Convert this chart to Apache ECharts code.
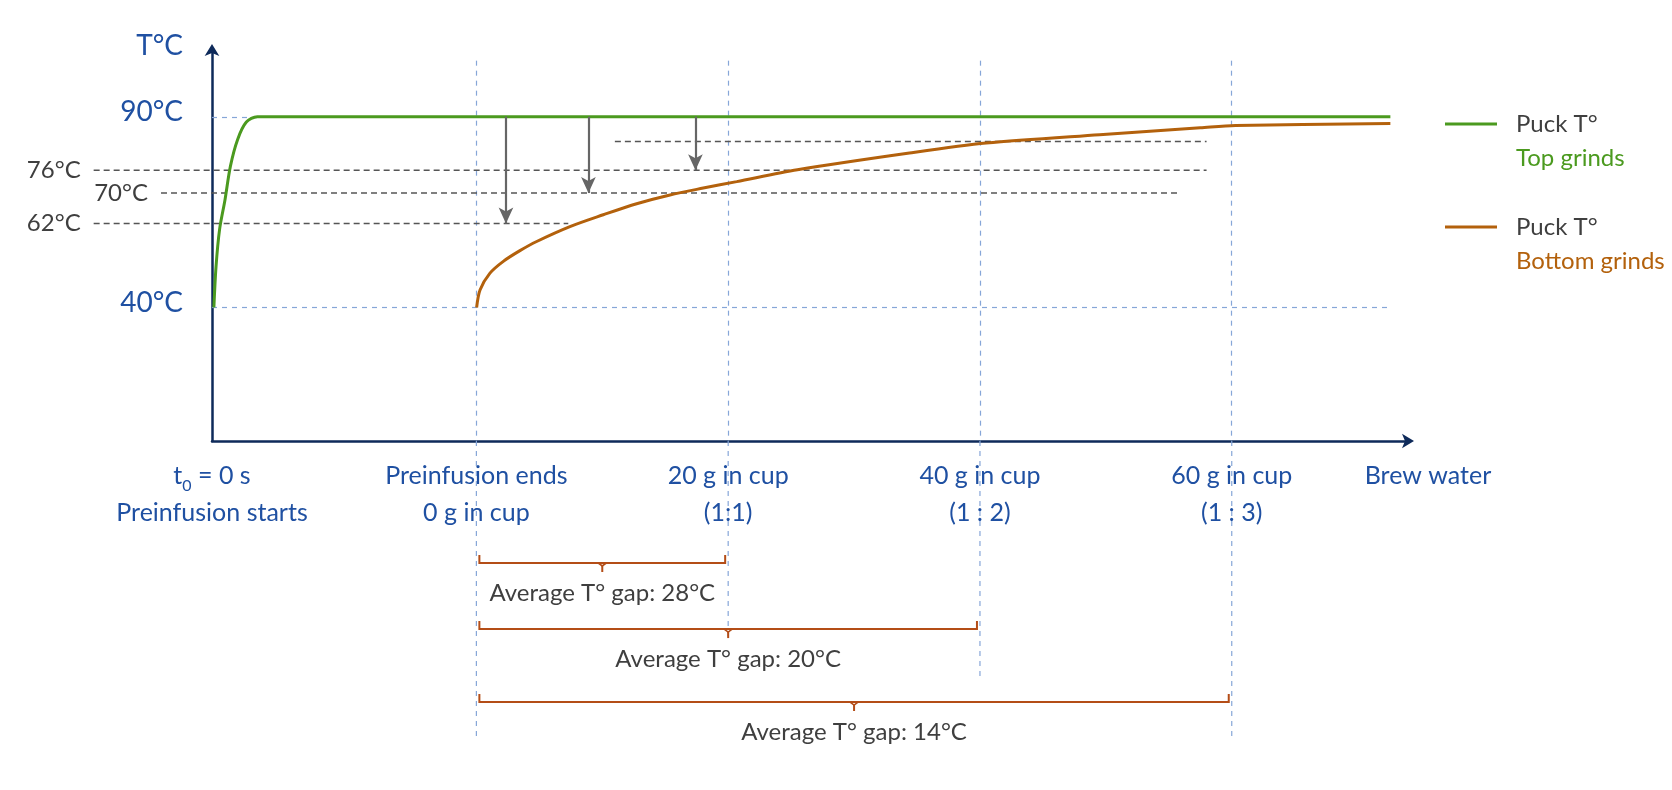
<!DOCTYPE html>
<html><head><meta charset="utf-8">
<script src="https://cdn.jsdelivr.net/npm/echarts@6/dist/echarts.min.js"></script>
<style>html,body{margin:0;padding:0;background:#fff}#c{width:1672px;height:790px}</style>
</head><body><div id="c"></div>
<script>
// ---------------- data ----------------
const topX = [0.15, 0.32, 0.6, 1.03, 1.46, 2.03, 2.73, 3.6, 93.6];
const topT = [40, 50.7, 60.4, 68.2, 77.0, 84.0, 88.6, 90, 90];
const bottomX = [21.02, 21.29, 22.08, 23.14, 24.46, 25.79, 28.43, 31.08, 33.73, 36.38, 39.02, 41.68, 46.5, 55.4, 61.5, 70.5, 78.5, 81.3, 93.6];
const bottomT = [40, 44.6, 49.0, 52.1, 54.9, 57.3, 61.2, 64.3, 67.2, 69.5, 71.3, 73.0, 76.1, 80.5, 83.1, 85.3, 87.1, 87.7, 88.2];
const milestoneX = [0, 21, 41, 61, 81];
const milestoneLabels = [
  ['t₀ = 0 s', 'Preinfusion starts'],
  ['Preinfusion ends', '0 g in cup'],
  ['20 g in cup', '(1:1)'],
  ['40 g in cup', '(1 : 2)'],
  ['60 g in cup', '(1 : 3)']
];
const brewLabel = 'Brew water';
const axisTemps = [40, 90];
const refTemps = [83.5, 76, 70, 62];
const refLabels = ['', '76°C', '70°C', '62°C'];
const refFrom = [32.0, -9.4, -4.05, -9.4];
const refTo = [79.0, 79.0, 76.9, 28.3];
const arrowX = [23.35, 29.9, 38.4];
const arrowFrom = [90, 90, 90];
const arrowTo = [62, 70, 76];
const bracketFrom = [21, 21, 21];
const bracketTo = [41, 61, 81];
const avgGap = [28, 20, 14];
const seriesNames = ['Top grinds', 'Bottom grinds'];

// ---------------- style ----------------
const FONT = 'Lato';
const blue = '#1f50a2', navy = '#0e2a5a', green = '#4b9a1f', brown = '#b3610c';
const bracketColor = '#b44d17', grayText = '#3f3f3f', dashGray = '#555', dashBlue = '#86a6d8', arrowGray = '#666';
const bracketLevels = [4.08, 6.29, 8.73];
const lowerLineEnds = [9.87, 6.66, 7.89, 9.87];

function richify(l) {
  if (l.indexOf('₀') >= 0) {
    const p = l.split('₀');
    return '{b|' + p[0] + '}{s|0}{b|' + p[1] + '}';
  }
  return '{b|' + l + '}';
}

const chart = echarts.init(document.getElementById('c'));
const option = {
  animation: false,
  backgroundColor: '#fff',
  textStyle: { fontFamily: FONT },
  grid: [
    { left: 212, right: 264, top: 50, bottom: 349 },
    { left: 212, right: 264, top: 441, bottom: 50 }
  ],
  legend: {
    left: 1445, top: 78, orient: 'vertical', padding: 0, itemGap: 11,
    icon: 'rect', itemWidth: 52, itemHeight: 3, selectedMode: false,
    data: seriesNames,
    formatter: function (name) {
      return '{e| }\n{k|Puck T°}\n' + (name === seriesNames[0] ? '{g|' : '{o|') + name + '}';
    },
    textStyle: {
      padding: [0, 0, 0, 14],
      rich: {
        e: { fontSize: 24, lineHeight: 34, fontFamily: FONT },
        k: { color: grayText, fontSize: 24, lineHeight: 34, fontFamily: FONT },
        g: { color: green, fontSize: 24, lineHeight: 34, fontFamily: FONT },
        o: { color: brown, fontSize: 24, lineHeight: 34, fontFamily: FONT }
      }
    }
  },
  xAxis: [
    {
      gridIndex: 0, type: 'value', min: 0, max: 95,
      axisLine: { onZero: false, symbol: ['none', 'arrow'], symbolSize: [11, 12], symbolOffset: [0, 6], lineStyle: { color: navy, width: 2.5 } },
      axisTick: { show: false }, splitLine: { show: false },
      axisLabel: {
        customValues: milestoneX, margin: 16,
        formatter: function (v) {
          const i = milestoneX.indexOf(v);
          if (i < 0) return '';
          return milestoneLabels[i].map(richify).join('\n');
        },
        rich: {
          b: { color: blue, fontSize: 25, lineHeight: 37, fontFamily: FONT },
          s: { color: blue, fontSize: 16, lineHeight: 22, verticalAlign: 'bottom', fontFamily: FONT }
        }
      },
      name: brewLabel, nameLocation: 'end', nameGap: 20,
      nameTextStyle: { color: blue, fontSize: 25, lineHeight: 37, align: 'center', verticalAlign: 'top', padding: [16, 0, 0, 0], fontFamily: FONT }
    },
    { gridIndex: 1, type: 'value', min: 0, max: 95, show: false }
  ],
  yAxis: [
    {
      gridIndex: 0, type: 'value', min: 5, max: 107.5,
      axisLine: { show: true, symbol: ['none', 'arrow'], symbolSize: [11, 12], symbolOffset: [0, 6], lineStyle: { color: navy, width: 2.5 } },
      axisTick: { show: false }, splitLine: { show: false },
      axisLabel: {
        customValues: axisTemps, margin: 29, color: blue, fontSize: 28, fontFamily: FONT,
        verticalAlign: 'bottom', lineHeight: 9,
        formatter: '{value}°C'
      },
      name: 'T°C', nameLocation: 'end', nameGap: 4,
      nameTextStyle: { color: blue, fontSize: 28, align: 'right', verticalAlign: 'middle', padding: [0, 29, 0, 0], fontFamily: FONT }
    },
    { gridIndex: 1, type: 'value', min: 0, max: 10, inverse: true, show: false }
  ],
  series: [
    {
      type: 'custom', name: 'refs', coordinateSystem: 'cartesian2d', xAxisIndex: 0, yAxisIndex: 0,
      clip: false, silent: true, z: 1,
      data: refTemps.map((t, i) => [refFrom[i], refTo[i], t]),
      encode: { x: [0, 1], y: 2 },
      renderItem: function (params, api) {
        const i = params.dataIndex;
        const a = api.coord([api.value(0), api.value(2)]);
        const b = api.coord([api.value(1), api.value(2)]);
        const children = [{
          type: 'line', shape: { x1: a[0], y1: a[1], x2: b[0], y2: b[1] },
          style: { stroke: dashGray, lineWidth: 1.5, lineDash: [6, 4] }
        }];
        if (refLabels[i]) {
          children.push({
            type: 'text',
            style: { text: refLabels[i], x: a[0] - 13, y: a[1], align: 'right', verticalAlign: 'middle', fontSize: 24, fontFamily: FONT, fill: grayText }
          });
        }
        return { type: 'group', children: children };
      }
    },
    {
      type: 'line', name: seriesNames[0], xAxisIndex: 0, yAxisIndex: 0, z: 3,
      data: topX.map((x, i) => [x, topT[i]]),
      showSymbol: false, smooth: 0.3,
      lineStyle: { color: green, width: 3 }, itemStyle: { color: green },
      markLine: {
        silent: true, symbol: ['none', 'none'], z: 1,
        label: { show: false }, emphasis: { disabled: true },
        lineStyle: { color: dashBlue, width: 1.2, type: [5, 5] },
        data: [
          [{ coord: [0, axisTemps[1]] }, { coord: [topX[7], axisTemps[1]] }],
          [{ coord: [0, axisTemps[0]] }, { coord: [bottomX[bottomX.length - 1], axisTemps[0]] }]
        ].concat(milestoneX.slice(1).map(x => [{ coord: [x, 104.7] }, { coord: [x, 5] }]))
      }
    },
    {
      type: 'line', name: seriesNames[1], xAxisIndex: 0, yAxisIndex: 0, z: 3,
      data: bottomX.map((x, i) => [x, bottomT[i]]),
      showSymbol: false, smooth: 0.3,
      lineStyle: { color: brown, width: 3 }, itemStyle: { color: brown },
      markLine: {
        silent: true, symbol: ['none', 'arrow'], symbolSize: [11, 16], z: 6,
        label: { show: false }, emphasis: { disabled: true },
        lineStyle: { color: arrowGray, width: 2.2, type: 'solid' },
        data: arrowX.map((x, i) => [{ coord: [x, arrowFrom[i]] }, { coord: [x, arrowTo[i]] }])
      }
    },
    {
      type: 'custom', name: 'lowerLines', coordinateSystem: 'cartesian2d', xAxisIndex: 1, yAxisIndex: 1,
      clip: false, silent: true, z: 1,
      data: milestoneX.slice(1).map(x => [x]),
      encode: { x: 0 },
      renderItem: function (params, api) {
        const i = params.dataIndex;
        const a = api.coord([api.value(0), 0]);
        const b = api.coord([api.value(0), lowerLineEnds[i]]);
        return {
          type: 'line', shape: { x1: a[0], y1: a[1], x2: b[0], y2: b[1] },
          style: { stroke: dashBlue, lineWidth: 1.2, lineDash: [5, 5] }
        };
      }
    },
    {
      type: 'custom', name: 'brackets', coordinateSystem: 'cartesian2d', xAxisIndex: 1, yAxisIndex: 1,
      clip: false, silent: true, z: 4,
      data: bracketFrom.map((f, i) => [f, bracketTo[i], avgGap[i]]),
      encode: { x: [0, 1] },
      renderItem: function (params, api) {
        const i = params.dataIndex;
        const lv = bracketLevels[i];
        const a = api.coord([api.value(0), lv]);
        const b = api.coord([api.value(1), lv]);
        const x0 = a[0] + 3, x1 = b[0] - 3, y = a[1];
        const mid = (x0 + x1) / 2;
        return {
          type: 'group', children: [
            { type: 'polyline', shape: { points: [[x0, y - 8], [x0, y], [x1, y], [x1, y - 8]] }, style: { stroke: bracketColor, lineWidth: 2, fill: null } },
            { type: 'polyline', shape: { points: [[mid - 4, y], [mid, y + 3], [mid + 4, y]] }, style: { stroke: bracketColor, lineWidth: 1.6, fill: null } },
            { type: 'line', shape: { x1: mid, y1: y + 2, x2: mid, y2: y + 9 }, style: { stroke: bracketColor, lineWidth: 2 } },
            { type: 'text', style: { text: 'Average T° gap: ' + api.value(2) + '°C', x: mid, y: y + 30, align: 'center', verticalAlign: 'middle', fontSize: 24, fontFamily: FONT, fill: grayText } }
          ]
        };
      }
    }
  ]
};
chart.setOption(option);
</script>
</body></html>
